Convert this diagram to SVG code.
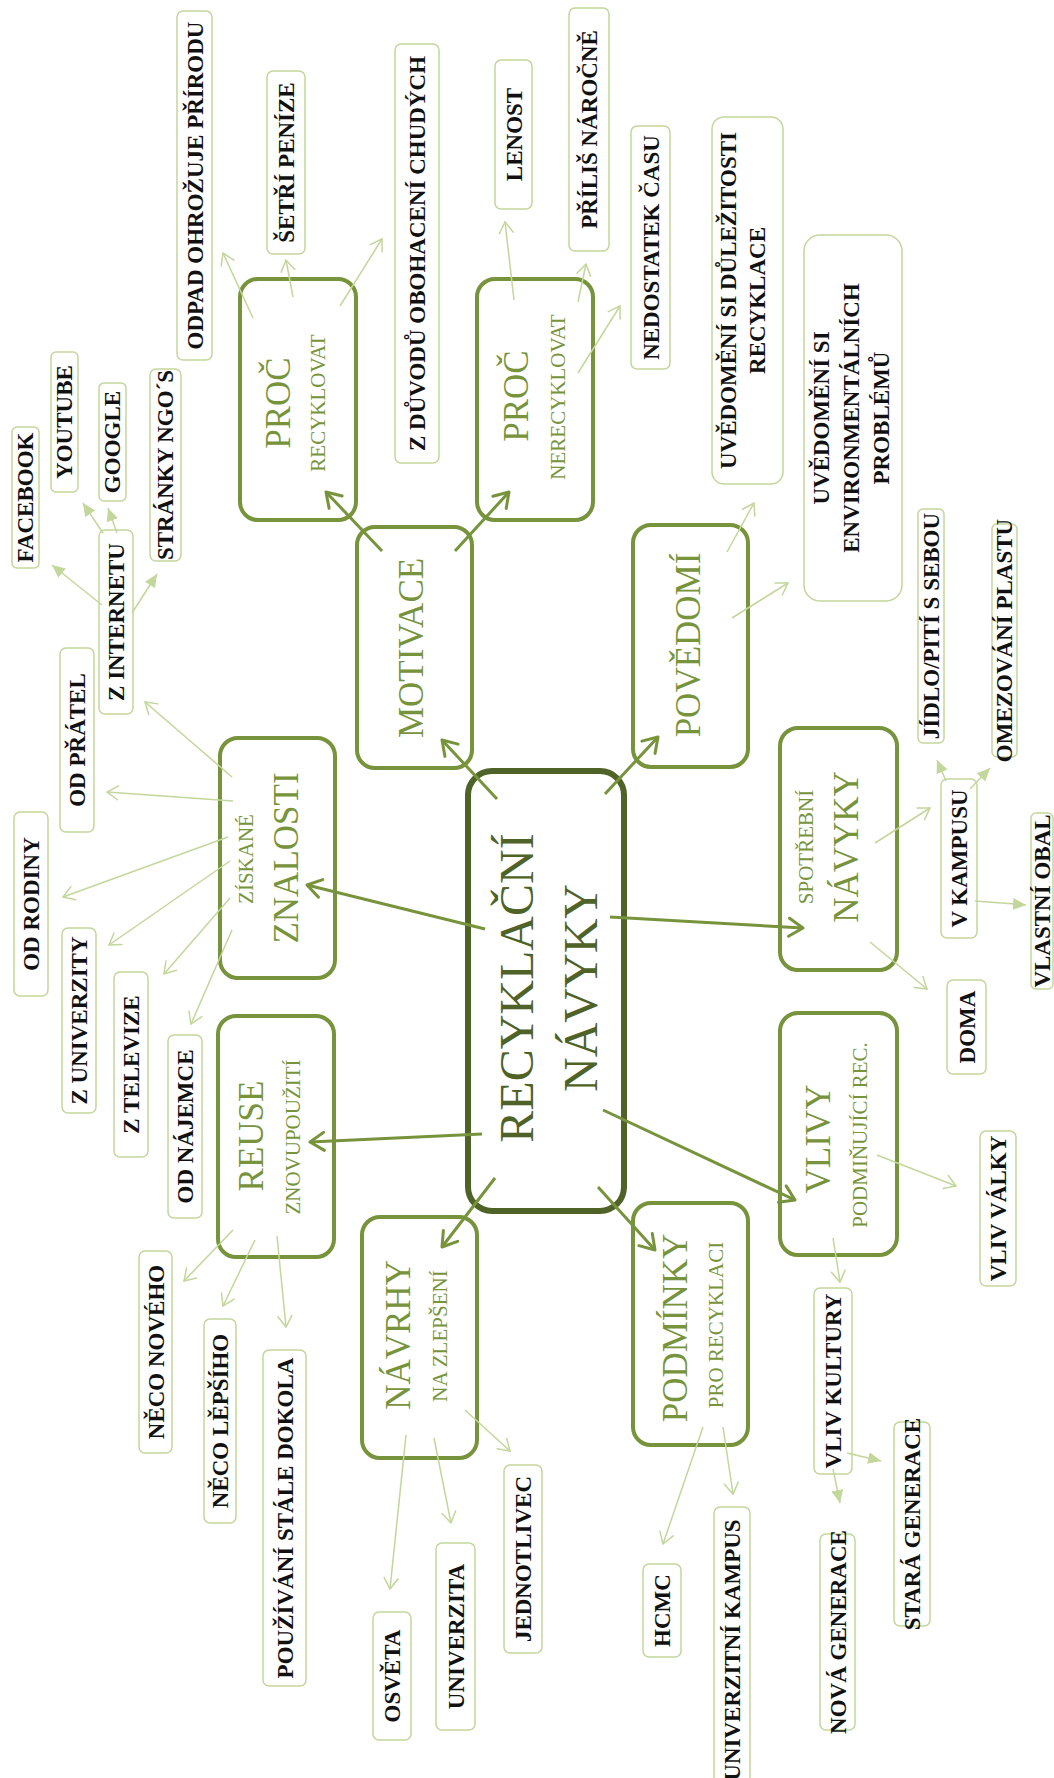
<svg xmlns="http://www.w3.org/2000/svg" width="1054" height="1778" viewBox="0 0 1054 1778">
<style>
.leaf rect{fill:#fff;stroke:#c3d69b;stroke-width:1.5}
.lt{font-family:"Liberation Serif",serif;font-weight:bold;font-size:23px;fill:#111;text-anchor:middle}
.main rect{fill:#fff;stroke:#77933c;stroke-width:4}
.gb{font-family:"Liberation Serif",serif;font-size:35px;fill:#77933c;text-anchor:middle}
.gs{font-family:"Liberation Serif",serif;font-size:21px;fill:#77933c;text-anchor:middle}
.central rect{fill:#fff;stroke:#4f6228;stroke-width:6}
.ct{font-family:"Liberation Serif",serif;font-size:48px;fill:#4f6228;text-anchor:middle}
.big{stroke:#77933c;stroke-width:3;fill:none;marker-end:url(#mb)}
.so{stroke:#c3d69b;stroke-width:1.5;fill:none;marker-end:url(#ms)}
.sf{stroke:#c3d69b;stroke-width:1.5;fill:none;marker-end:url(#mf)}
</style>
<defs>
<marker id="mb" markerUnits="userSpaceOnUse" markerWidth="18" markerHeight="22" viewBox="0 0 18 22" refX="16" refY="11" orient="auto"><path d="M2,2 L16,11 L2,20" fill="none" stroke="#77933c" stroke-width="3" stroke-linecap="round" stroke-linejoin="round"/></marker>
<marker id="ms" markerUnits="userSpaceOnUse" markerWidth="13" markerHeight="16" viewBox="0 0 13 16" refX="12" refY="8" orient="auto"><path d="M1,1 L12,8 L1,15" fill="none" stroke="#c3d69b" stroke-width="1.5" stroke-linecap="round"/></marker>
<marker id="mf" markerUnits="userSpaceOnUse" markerWidth="14" markerHeight="12" viewBox="0 0 14 12" refX="13" refY="6" orient="auto"><path d="M0,0 L13,6 L0,12 Z" fill="#c3d69b"/></marker>
</defs>

<g id="n-central" class="central"><rect x="468" y="771" width="156" height="440" rx="24"/>
<text class="ct" transform="translate(533,988) rotate(-90)">RECYKLAČNÍ</text>
<text class="ct" transform="translate(597,988) rotate(-90)">NÁVYKY</text></g>

<g id="n-motivace" class="main"><rect x="357" y="527" width="115" height="241" rx="18"/>
<text class="gb" transform="translate(423,648) rotate(-90)">MOTIVACE</text></g>
<g id="n-proc-r" class="main"><rect x="240" y="279" width="116" height="241" rx="18"/>
<text class="gb" transform="translate(290,403) rotate(-90)">PROČ</text>
<text class="gs" transform="translate(325,403) rotate(-90)">RECYKLOVAT</text></g>
<g id="n-proc-nr" class="main"><rect x="477" y="279" width="116" height="241" rx="18"/>
<text class="gb" transform="translate(528,396) rotate(-90)">PROČ</text>
<text class="gs" transform="translate(565,397) rotate(-90)">NERECYKLOVAT</text></g>
<g id="n-povedomi" class="main"><rect x="633" y="525" width="115" height="242" rx="18"/>
<text class="gb" transform="translate(700,645) rotate(-90)">POVĚDOMÍ</text></g>
<g id="n-znalosti" class="main"><rect x="220" y="738" width="115" height="240" rx="18"/>
<text class="gs" transform="translate(253,859) rotate(-90)">ZÍSKANÉ</text>
<text class="gb" transform="translate(298,858) rotate(-90)">ZNALOSTI</text></g>
<g id="n-reuse" class="main"><rect x="218" y="1016" width="116" height="241" rx="18"/>
<text class="gb" transform="translate(263,1136) rotate(-90)">REUSE</text>
<text class="gs" transform="translate(300,1137) rotate(-90)">ZNOVUPOUŽITÍ</text></g>
<g id="n-navrhy" class="main"><rect x="362" y="1217" width="115" height="241" rx="18"/>
<text class="gb" transform="translate(410,1335) rotate(-90)">NÁVRHY</text>
<text class="gs" transform="translate(447,1336) rotate(-90)">NA ZLEPŠENÍ</text></g>
<g id="n-podminky" class="main"><rect x="633" y="1203" width="115" height="242" rx="18"/>
<text class="gb" transform="translate(687,1328) rotate(-90)">PODMÍNKY</text>
<text class="gs" transform="translate(723,1325) rotate(-90)">PRO RECYKLACI</text></g>
<g id="n-vlivy" class="main"><rect x="780" y="1013" width="117" height="242" rx="18"/>
<text class="gb" transform="translate(830,1139) rotate(-90)">VLIVY</text>
<text class="gs" transform="translate(867,1135) rotate(-90)">PODMIŇUJÍCÍ REC.</text></g>
<g id="n-spotrebni" class="main"><rect x="780" y="728" width="117" height="242" rx="18"/>
<text class="gs" transform="translate(813,847) rotate(-90)">SPOTŘEBNÍ</text>
<text class="gb" transform="translate(858,847) rotate(-90)">NÁVYKY</text></g>

<g id="l-odpad" class="leaf"><rect x="177" y="11" width="35" height="349" rx="6"/><text class="lt" transform="translate(202.5,185.5) rotate(-90)">ODPAD OHROŽUJE PŘÍRODU</text></g>
<g id="l-setri" class="leaf"><rect x="267" y="71" width="38" height="183" rx="6"/><text class="lt" transform="translate(294,162.5) rotate(-90)">ŠETŘÍ PENÍZE</text></g>
<g id="l-duvody" class="leaf"><rect x="395" y="44" width="44" height="419" rx="6"/><text class="lt" transform="translate(425,253.5) rotate(-90)">Z DŮVODŮ OBOHACENÍ CHUDÝCH</text></g>
<g id="l-lenost" class="leaf"><rect x="495" y="60" width="37" height="149" rx="6"/><text class="lt" transform="translate(521.5,134.5) rotate(-90)">LENOST</text></g>
<g id="l-prilis" class="leaf"><rect x="569" y="8" width="40" height="243" rx="6"/><text class="lt" transform="translate(597,129.5) rotate(-90)">PŘÍLIŠ NÁROČNĚ</text></g>
<g id="l-nedostatek" class="leaf"><rect x="631" y="126" width="39" height="243" rx="6"/><text class="lt" transform="translate(658.5,247.5) rotate(-90)">NEDOSTATEK ČASU</text></g>
<g id="l-uvedomeni1" class="leaf"><rect x="712" y="117" width="71" height="367" rx="12"/><text class="lt" transform="translate(736,300.5) rotate(-90)">UVĚDOMĚNÍ SI DŮLEŽITOSTI</text><text class="lt" transform="translate(765,300.5) rotate(-90)">RECYKLACE</text></g>
<g id="l-uvedomeni2" class="leaf"><rect x="804" y="235" width="98" height="366" rx="16"/><text class="lt" transform="translate(829,418) rotate(-90)">UVĚDOMĚNÍ SI</text><text class="lt" transform="translate(859,418) rotate(-90)">ENVIRONMENTÁLNÍCH</text><text class="lt" transform="translate(889,418) rotate(-90)">PROBLÉMŮ</text></g>
<g id="l-jidlo" class="leaf"><rect x="918" y="509" width="26" height="234" rx="5"/><text class="lt" transform="translate(939,626) rotate(-90)">JÍDLO/PITÍ S SEBOU</text></g>
<g id="l-omezovani" class="leaf"><rect x="992" y="524" width="25" height="233" rx="5"/><text class="lt" transform="translate(1012,640.5) rotate(-90)">OMEZOVÁNÍ PLASTU</text></g>
<g id="l-vkampusu" class="leaf"><rect x="941" y="779" width="36" height="159" rx="6"/><text class="lt" transform="translate(967,858.5) rotate(-90)">V KAMPUSU</text></g>
<g id="l-vlastni" class="leaf"><rect x="1031" y="813" width="22" height="176" rx="5"/><text class="lt" transform="translate(1049.5,901) rotate(-90)">VLASTNÍ OBAL</text></g>
<g id="l-doma" class="leaf"><rect x="947" y="980" width="39" height="94" rx="6"/><text class="lt" transform="translate(974.5,1027) rotate(-90)">DOMA</text></g>
<g id="l-valky" class="leaf"><rect x="980" y="1131" width="36" height="155" rx="6"/><text class="lt" transform="translate(1006,1208.5) rotate(-90)">VLIV VÁLKY</text></g>
<g id="l-kultury" class="leaf"><rect x="814" y="1288" width="38" height="186" rx="6"/><text class="lt" transform="translate(841,1381) rotate(-90)">VLIV KULTURY</text></g>
<g id="l-stara" class="leaf"><rect x="894" y="1422" width="36" height="204" rx="6"/><text class="lt" transform="translate(920,1524) rotate(-90)">STARÁ GENERACE</text></g>
<g id="l-nova" class="leaf"><rect x="820" y="1534" width="35" height="196" rx="6"/><text class="lt" transform="translate(845.5,1632) rotate(-90)">NOVÁ GENERACE</text></g>
<g id="l-kampus" class="leaf"><rect x="714" y="1507" width="36" height="290" rx="6"/><text class="lt" transform="translate(740,1650) rotate(-90)">UNIVERZITNÍ KAMPUS</text></g>
<g id="l-hcmc" class="leaf"><rect x="643" y="1564" width="38" height="93" rx="6"/><text class="lt" transform="translate(670,1610.5) rotate(-90)">HCMC</text></g>
<g id="l-jednotlivec" class="leaf"><rect x="504" y="1465" width="38" height="188" rx="6"/><text class="lt" transform="translate(531,1559) rotate(-90)">JEDNOTLIVEC</text></g>
<g id="l-univerzita" class="leaf"><rect x="436" y="1543" width="39" height="187" rx="6"/><text class="lt" transform="translate(463.5,1636.5) rotate(-90)">UNIVERZITA</text></g>
<g id="l-osveta" class="leaf"><rect x="373" y="1612" width="38" height="128" rx="6"/><text class="lt" transform="translate(400,1676) rotate(-90)">OSVĚTA</text></g>
<g id="l-pouzivani" class="leaf"><rect x="263" y="1350" width="43" height="336" rx="6"/><text class="lt" transform="translate(292.5,1518) rotate(-90)">POUŽÍVÁNÍ STÁLE DOKOLA</text></g>
<g id="l-lepsiho" class="leaf"><rect x="204" y="1319" width="32" height="204" rx="6"/><text class="lt" transform="translate(228,1421) rotate(-90)">NĚCO LĚPŠÍHO</text></g>
<g id="l-noveho" class="leaf"><rect x="139" y="1251" width="33" height="202" rx="6"/><text class="lt" transform="translate(163.5,1352) rotate(-90)">NĚCO NOVÉHO</text></g>
<g id="l-najemce" class="leaf"><rect x="168" y="1035" width="34" height="183" rx="6"/><text class="lt" transform="translate(193,1126.5) rotate(-90)">OD NÁJEMCE</text></g>
<g id="l-televize" class="leaf"><rect x="114" y="972" width="34" height="185" rx="6"/><text class="lt" transform="translate(139,1064.5) rotate(-90)">Z TELEVIZE</text></g>
<g id="l-univerzity" class="leaf"><rect x="62" y="928" width="34" height="185" rx="6"/><text class="lt" transform="translate(87,1020.5) rotate(-90)">Z UNIVERZITY</text></g>
<g id="l-rodiny" class="leaf"><rect x="14" y="812" width="34" height="184" rx="6"/><text class="lt" transform="translate(39,904) rotate(-90)">OD RODINY</text></g>
<g id="l-pratel" class="leaf"><rect x="60" y="648" width="34" height="184" rx="6"/><text class="lt" transform="translate(85,740) rotate(-90)">OD PŘÁTEL</text></g>
<g id="l-internetu" class="leaf"><rect x="99" y="530" width="34" height="184" rx="6"/><text class="lt" transform="translate(124,622) rotate(-90)">Z INTERNETU</text></g>
<g id="l-facebook" class="leaf"><rect x="12" y="427" width="27" height="141" rx="5"/><text class="lt" transform="translate(33,497.5) rotate(-90)">FACEBOOK</text></g>
<g id="l-youtube" class="leaf"><rect x="51" y="352" width="27" height="140" rx="5"/><text class="lt" transform="translate(72,422) rotate(-90)">YOUTUBE</text></g>
<g id="l-google" class="leaf"><rect x="99" y="383" width="27" height="118" rx="5"/><text class="lt" transform="translate(120,442) rotate(-90)">GOOGLE</text></g>
<g id="l-ngo" class="leaf"><rect x="150" y="369" width="31" height="192" rx="6"/><text class="lt" transform="translate(173,465) rotate(-90)">STRÁNKY NGO´S</text></g>

<g id="connectors">
<line class="big" x1="497" y1="799" x2="442" y2="740"/>
<line class="big" x1="485" y1="929" x2="307" y2="885"/>
<line class="big" x1="482" y1="1134" x2="310" y2="1142"/>
<line class="big" x1="495" y1="1178" x2="442" y2="1247"/>
<line class="big" x1="598" y1="1187" x2="655" y2="1250"/>
<line class="big" x1="603" y1="1110" x2="795" y2="1200"/>
<line class="big" x1="610" y1="917" x2="803" y2="928"/>
<line class="big" x1="605" y1="794" x2="658" y2="737"/>
<line class="big" x1="382" y1="551" x2="326" y2="492"/>
<line class="big" x1="455" y1="551" x2="509" y2="492"/>

<line class="so" x1="253" y1="318" x2="223" y2="253"/>
<line class="so" x1="293" y1="297" x2="286" y2="260"/>
<line class="so" x1="340" y1="306" x2="382" y2="239"/>
<line class="so" x1="514" y1="300" x2="505" y2="222"/>
<line class="so" x1="578" y1="302" x2="586" y2="264"/>
<line class="so" x1="578" y1="373" x2="620" y2="306"/>
<line class="so" x1="727" y1="552" x2="754" y2="503"/>
<line class="so" x1="732" y1="618" x2="788" y2="583"/>
<line class="so" x1="232" y1="777" x2="145" y2="702"/>
<line class="so" x1="233" y1="801" x2="107" y2="792"/>
<line class="so" x1="228" y1="837" x2="63" y2="897"/>
<line class="so" x1="230" y1="861" x2="109" y2="945"/>
<line class="so" x1="230" y1="898" x2="164" y2="974"/>
<line class="so" x1="232" y1="930" x2="191" y2="1024"/>
<line class="so" x1="233" y1="1230" x2="184" y2="1281"/>
<line class="so" x1="255" y1="1240" x2="223" y2="1306"/>
<line class="so" x1="277" y1="1236" x2="286" y2="1327"/>
<line class="so" x1="406" y1="1435" x2="390" y2="1589"/>
<line class="so" x1="434" y1="1438" x2="451" y2="1523"/>
<line class="so" x1="465" y1="1410" x2="510" y2="1451"/>
<line class="so" x1="703" y1="1427" x2="663" y2="1544"/>
<line class="so" x1="723" y1="1427" x2="733" y2="1494"/>
<line class="so" x1="877" y1="1155" x2="956" y2="1186"/>
<line class="so" x1="833" y1="1238" x2="840" y2="1282"/>
<line class="so" x1="875" y1="843" x2="930" y2="808"/>
<line class="so" x1="870" y1="942" x2="927" y2="989"/>

<line class="sf" x1="102" y1="605" x2="52" y2="565"/>
<line class="sf" x1="103" y1="533" x2="83" y2="503"/>
<line class="sf" x1="117" y1="533" x2="108" y2="508"/>
<line class="sf" x1="132" y1="613" x2="157" y2="574"/>
<line class="sf" x1="946" y1="781" x2="937" y2="760"/>
<line class="sf" x1="970" y1="789" x2="990" y2="768"/>
<line class="sf" x1="975" y1="901" x2="1026" y2="905"/>
<line class="sf" x1="847" y1="1453" x2="881" y2="1461"/>
<line class="sf" x1="833" y1="1469" x2="840" y2="1503"/>
</g>
</svg>
